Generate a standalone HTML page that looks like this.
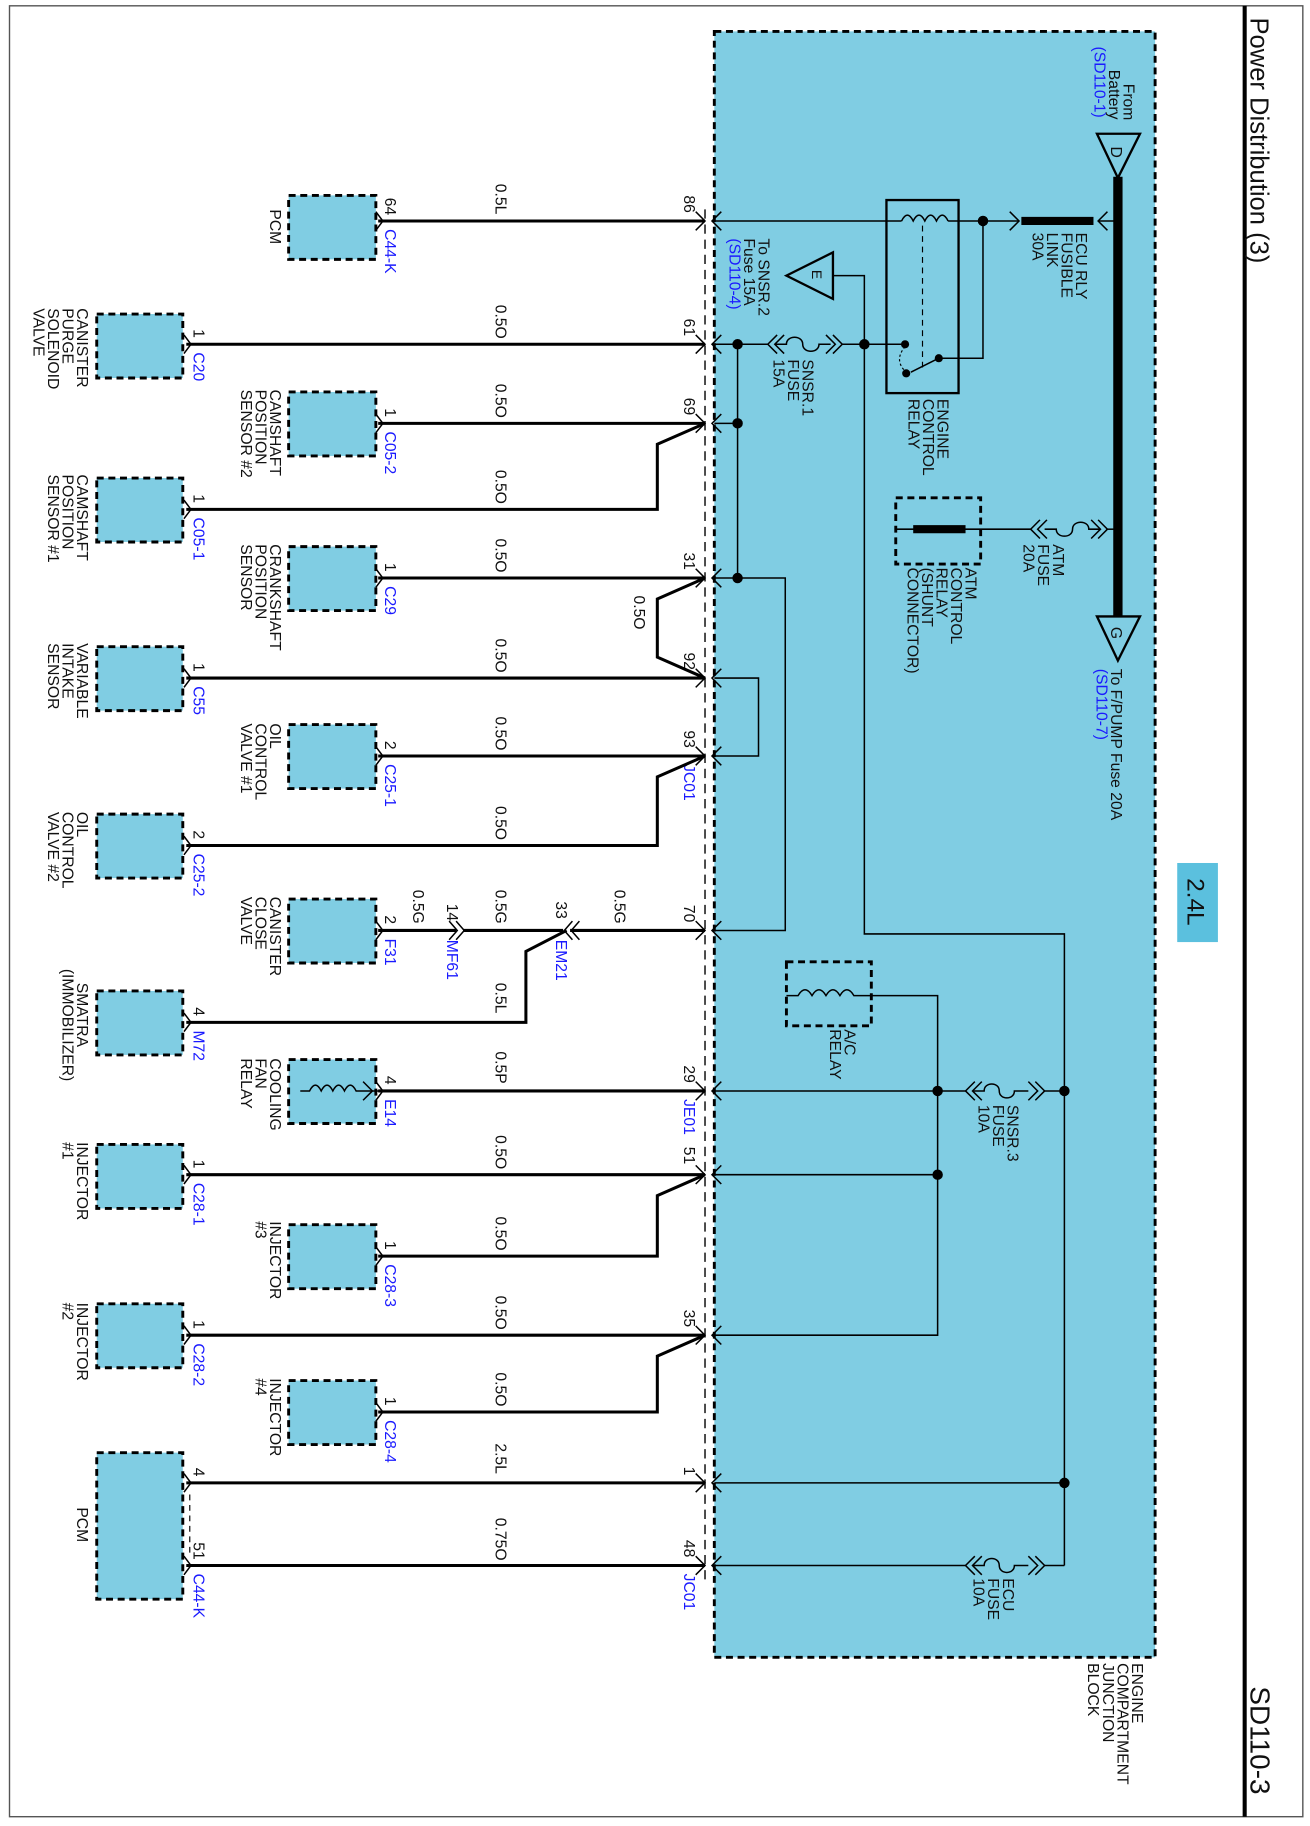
<!DOCTYPE html>
<html><head><meta charset="utf-8"><style>
html,body{margin:0;padding:0;background:#fff}
svg{display:block}
text{font-family:"Liberation Sans",sans-serif;font-size:13.5px;fill:#111}
.b{fill:#1a1aff}
.w{stroke:#000;stroke-width:2.6;fill:none}
.t{stroke:#000;stroke-width:1.3;fill:none}
.box{fill:#80cde3;stroke:#000;stroke-width:2.5;stroke-dasharray:6 4}
</style></head><body>
<svg width="1310" height="1826" viewBox="0 0 1126 1570" xmlns="http://www.w3.org/2000/svg">
<rect x="8" y="5" width="1112" height="1557" fill="none" stroke="#555" stroke-width="1.2"/>
<line x1="1070" y1="5" x2="1070" y2="1562" stroke="#000" stroke-width="3.5"/>
<text transform="translate(1075,15) rotate(90)" style="font-size:22px">Power Distribution (3)</text>
<text transform="translate(1075,1450) rotate(90)" style="font-size:24px">SD110-3</text>
<rect x="1012" y="742" width="35" height="68" fill="#5bc0de"/>
<text transform="translate(1021,755) rotate(90)" style="font-size:21px">2.4L</text>

<rect x="614" y="27" width="379" height="1398" class="box" stroke-width="3"/>
<line x1="606" y1="180" x2="606" y2="1362" stroke="#000" stroke-width="1.2" stroke-dasharray="8 5"/>
<g transform="translate(973,1430) rotate(90)"><text>ENGINE<tspan x="0" dy="12.5">COMPARTMENT</tspan><tspan x="0" dy="12.5">JUNCTION</tspan><tspan x="0" dy="12.5">BLOCK</tspan></text></g>

<line x1="961" y1="152" x2="961" y2="530" stroke="#000" stroke-width="8"/>
<polygon points="943,115 980,115 961,153" fill="none" stroke="#000" stroke-width="2"/>
<text transform="translate(955,126) rotate(90)">D</text>
<polygon points="943,530 980,530 961,568" fill="none" stroke="#000" stroke-width="2"/>
<text transform="translate(955,539) rotate(90)">G</text>
<g transform="translate(966,72) rotate(90)"><text>From<tspan x="-12" dy="12.5">Battery</tspan><tspan x="-32" dy="12.5" class="b">(SD110-1)</tspan></text></g>
<g transform="translate(955,575) rotate(90)"><text>To F/PUMP Fuse 20A<tspan x="0" dy="12.5" class="b">(SD110-7)</tspan></text></g>

<line x1="614" y1="190" x2="775" y2="190" class="t"/>
<path d="M775,190 q5,-10 10,0 q5,-10 10,0 q5,-10 10,0 q5,-10 10,0" class="t"/>
<line x1="815" y1="190" x2="875" y2="190" class="t"/>
<polyline points="868,182 876,190 868,198" class="t"/>
<line x1="878" y1="190" x2="940" y2="190" stroke="#000" stroke-width="7"/>
<polyline points="952,182 944,190 952,198" class="t"/><line x1="944" y1="190" x2="961" y2="190" class="t"/>
<circle cx="845" cy="190" r="4.5"/>
<g transform="translate(925,200) rotate(90)"><text>ECU RLY<tspan x="0" dy="12.5">FUSIBLE</tspan><tspan x="0" dy="12.5">LINK</tspan><tspan x="0" dy="12.5">30A</tspan></text></g>
<rect x="762" y="172" width="62" height="166" fill="none" stroke="#000" stroke-width="2"/>
<line x1="793" y1="194" x2="793" y2="318" stroke="#000" stroke-width="1" stroke-dasharray="5 4"/>
<polyline points="845,190 845,308 807,308" class="t"/>
<line x1="807" y1="308" x2="783" y2="320" class="t"/>
<circle cx="778" cy="296" r="3.5"/><circle cx="779" cy="321" r="3.5"/><circle cx="807" cy="308" r="3.5"/>
<path d="M778,298 q-10,12 1,22" stroke="#000" stroke-width="1" fill="none" stroke-dasharray="2 2"/>
<g transform="translate(806,343) rotate(90)"><text>ENGINE<tspan x="0" dy="12.5">CONTROL</tspan><tspan x="0" dy="12.5">RELAY</tspan></text></g>

<line x1="614" y1="296" x2="660" y2="296" class="t"/>
<polyline points="668,288 660,296 668,304" class="t"/><polyline points="674,288 666,296 674,304" class="t"/>
<path d="M666,296 h10 c0,-8 14,-8 14,0 c0,8 14,8 14,0 h10" class="t"/>
<polyline points="710,288 718,296 710,304" class="t"/><polyline points="716,288 724,296 716,304" class="t"/>
<line x1="724" y1="296" x2="778" y2="296" class="t"/>
<circle cx="634" cy="296" r="4.5"/><circle cx="743" cy="296" r="4.5"/>
<g transform="translate(690,309) rotate(90)"><text>SNSR.1<tspan x="0" dy="12.5">FUSE</tspan><tspan x="0" dy="12.5">15A</tspan></text></g>
<polygon points="676,237 716,217 716,257" fill="none" stroke="#000" stroke-width="2"/>
<text transform="translate(698,232) rotate(90)" style="font-size:12px">E</text>
<polyline points="716,237 743,237 743,803 915,803 915,1346" class="t"/>
<g transform="translate(652,205) rotate(90)"><text>To SNSR.2<tspan x="0" dy="12.5">Fuse 15A</tspan><tspan x="0" dy="12.5" class="b">(SD110-4)</tspan></text></g>

<line x1="961" y1="455" x2="951" y2="455" class="t"/>
<polyline points="944,447 952,455 944,463" class="t"/><polyline points="938,447 946,455 938,463" class="t"/>
<path d="M946,455 h-10 c0,-8 -14,-8 -14,0 c0,8 -14,8 -14,0 h-10" class="t"/>
<polyline points="894,447 886,455 894,463" class="t"/><polyline points="900,447 892,455 900,463" class="t"/>
<line x1="886" y1="455" x2="770" y2="455" class="t"/>
<rect x="770" y="428" width="73" height="57" fill="none" stroke="#000" stroke-width="2.5" stroke-dasharray="6 4"/>
<line x1="785" y1="455" x2="830" y2="455" stroke="#000" stroke-width="7"/>
<g transform="translate(905,468) rotate(90)"><text>ATM<tspan x="0" dy="12.5">FUSE</tspan><tspan x="0" dy="12.5">20A</tspan></text></g>
<g transform="translate(830,488) rotate(90)"><text>ATM<tspan x="0" dy="12.5">CONTROL</tspan><tspan x="0" dy="12.5">RELAY</tspan><tspan x="0" dy="12.5">(SHUNT</tspan><tspan x="0" dy="12.5">CONNECTOR)</tspan></text></g>

<line x1="634" y1="296" x2="634" y2="497" class="t"/>
<line x1="614" y1="364" x2="634" y2="364" class="t"/><circle cx="634" cy="364" r="4.5"/>
<polyline points="614,497 675,497 675,800 614,800" class="t"/><circle cx="634" cy="497" r="4.5"/>
<polyline points="614,583 652,583 652,650 614,650" class="t"/>

<rect x="676" y="827" width="73" height="55" fill="none" stroke="#000" stroke-width="2.5" stroke-dasharray="6 4"/>
<path d="M676,856 h10 q6,-10 12,0 q6,-10 12,0 q6,-10 12,0 q6,-10 12,0 h14 H806 V1148 H614" class="t"/>
<g transform="translate(726,885) rotate(90)"><text>A/C<tspan x="0" dy="12.5">RELAY</tspan></text></g>
<line x1="614" y1="1010" x2="806" y2="1010" class="t"/><circle cx="806" cy="1010" r="4.5"/>
<line x1="614" y1="938" x2="830" y2="938" class="t"/>
<polyline points="838,930 830,938 838,946" class="t"/><polyline points="844,930 836,938 844,946" class="t"/>
<path d="M836,938 h10 c0,-8 13,-8 13,0 c0,8 13,8 13,0 h12" class="t"/>
<polyline points="884,930 892,938 884,946" class="t"/><polyline points="890,930 898,938 890,946" class="t"/>
<line x1="898" y1="938" x2="915" y2="938" class="t"/>
<circle cx="806" cy="938" r="4.5"/><circle cx="915" cy="938" r="4.5"/>
<g transform="translate(866,950) rotate(90)"><text>SNSR.3<tspan x="0" dy="12.5">FUSE</tspan><tspan x="0" dy="12.5">10A</tspan></text></g>
<line x1="614" y1="1275" x2="915" y2="1275" class="t"/><circle cx="915" cy="1275" r="4.5"/>
<line x1="614" y1="1346" x2="830" y2="1346" class="t"/>
<polyline points="838,1338 830,1346 838,1354" class="t"/><polyline points="844,1338 836,1346 844,1354" class="t"/>
<path d="M836,1346 h10 c0,-8 13,-8 13,0 c0,8 13,8 13,0 h12" class="t"/>
<polyline points="884,1338 892,1346 884,1354" class="t"/><polyline points="890,1338 898,1346 890,1354" class="t"/>
<line x1="898" y1="1346" x2="915" y2="1346" class="t"/>
<g transform="translate(862,1357) rotate(90)"><text>ECU<tspan x="0" dy="12.5">FUSE</tspan><tspan x="0" dy="12.5">10A</tspan></text></g>

<g class="t" stroke-width="1.4">
<polyline points="620,182 612,190 620,198"/><polyline points="598,182 606,190 598,198"/>
<polyline points="620,288 612,296 620,304"/><polyline points="598,288 606,296 598,304"/>
<polyline points="620,356 612,364 620,372"/><polyline points="598,356 606,364 598,372"/>
<polyline points="620,489 612,497 620,505"/><polyline points="598,489 606,497 598,505"/>
<polyline points="620,575 612,583 620,591"/><polyline points="598,575 606,583 598,591"/>
<polyline points="620,642 612,650 620,658"/><polyline points="598,642 606,650 598,658"/>
<polyline points="620,792 612,800 620,808"/><polyline points="598,792 606,800 598,808"/>
<polyline points="620,930 612,938 620,946"/><polyline points="598,930 606,938 598,946"/>
<polyline points="620,1002 612,1010 620,1018"/><polyline points="598,1002 606,1010 598,1018"/>
<polyline points="620,1140 612,1148 620,1156"/><polyline points="598,1140 606,1148 598,1156"/>
<polyline points="620,1267 612,1275 620,1283"/><polyline points="598,1267 606,1275 598,1283"/>
<polyline points="620,1338 612,1346 620,1354"/><polyline points="598,1338 606,1346 598,1354"/>
</g>
<g>
<text transform="translate(588,168) rotate(90)">86</text>
<text transform="translate(588,274) rotate(90)">61</text>
<text transform="translate(588,342) rotate(90)">69</text>
<text transform="translate(588,475) rotate(90)">31</text>
<text transform="translate(588,561) rotate(90)">92</text>
<text transform="translate(588,628) rotate(90)">93</text>
<text transform="translate(588,778) rotate(90)">70</text>
<text transform="translate(588,916) rotate(90)">29</text>
<text transform="translate(588,986) rotate(90)">51</text>
<text transform="translate(588,1126) rotate(90)">35</text>
<text transform="translate(588,1261) rotate(90)">1</text>
<text transform="translate(588,1324) rotate(90)">48</text>
<text class="b" transform="translate(588,657) rotate(90)">JC01</text>
<text class="b" transform="translate(588,945) rotate(90)">JE01</text>
<text class="b" transform="translate(588,1353) rotate(90)">JC01</text>
</g>

<g class="w">
<line x1="325" y1="190" x2="606" y2="190"/>
<line x1="160" y1="296" x2="606" y2="296"/>
<line x1="325" y1="364" x2="606" y2="364"/>
<polyline points="160,438 565,438 565,382 606,364"/>
<line x1="325" y1="497" x2="606" y2="497"/>
<polyline points="606,497 565,515 565,565 606,583"/>
<line x1="160" y1="583" x2="606" y2="583"/>
<line x1="325" y1="650" x2="606" y2="650"/>
<polyline points="160,727 565,727 565,668 606,650"/>
<line x1="490" y1="800" x2="606" y2="800"/>
<line x1="398" y1="800" x2="484" y2="800"/>
<line x1="325" y1="800" x2="392" y2="800"/>
<polyline points="160,879 452,879 452,818 487,800"/>
<line x1="325" y1="938" x2="606" y2="938"/>
<line x1="160" y1="1010" x2="606" y2="1010"/>
<polyline points="325,1080 565,1080 565,1028 606,1010"/>
<line x1="160" y1="1148" x2="606" y2="1148"/>
<polyline points="325,1214 565,1214 565,1166 606,1148"/>
<line x1="160" y1="1275" x2="606" y2="1275"/>
<line x1="160" y1="1346" x2="606" y2="1346"/>
</g>
<g class="t" stroke-width="1.5">
<polyline points="386,792 393,800 386,808"/><polyline points="392,792 399,800 392,808"/>
<polyline points="492,792 485,800 492,808"/><polyline points="498,792 491,800 498,808"/>
</g>
<text transform="translate(384,777) rotate(90)">14</text><text class="b" transform="translate(384,808) rotate(90)">MF61</text>
<text transform="translate(478,775) rotate(90)">33</text><text class="b" transform="translate(478,808) rotate(90)">EM21</text>
<line x1="163" y1="1285" x2="163" y2="1336" stroke="#000" stroke-width="1" stroke-dasharray="5 4"/>

<g>
<text transform="translate(426,158) rotate(90)">0.5L</text>
<text transform="translate(426,262) rotate(90)">0.5O</text>
<text transform="translate(426,330) rotate(90)">0.5O</text>
<text transform="translate(426,404) rotate(90)">0.5O</text>
<text transform="translate(426,463) rotate(90)">0.5O</text>
<text transform="translate(545,512) rotate(90)">0.5O</text>
<text transform="translate(426,549) rotate(90)">0.5O</text>
<text transform="translate(426,616) rotate(90)">0.5O</text>
<text transform="translate(426,693) rotate(90)">0.5O</text>
<text transform="translate(528,765) rotate(90)">0.5G</text>
<text transform="translate(426,765) rotate(90)">0.5G</text>
<text transform="translate(355,765) rotate(90)">0.5G</text>
<text transform="translate(426,845) rotate(90)">0.5L</text>
<text transform="translate(426,904) rotate(90)">0.5P</text>
<text transform="translate(426,976) rotate(90)">0.5O</text>
<text transform="translate(426,1046) rotate(90)">0.5O</text>
<text transform="translate(426,1114) rotate(90)">0.5O</text>
<text transform="translate(426,1180) rotate(90)">0.5O</text>
<text transform="translate(426,1241) rotate(90)">2.5L</text>
<text transform="translate(426,1305) rotate(90)">0.75O</text>
</g>

<g>
<rect x="248" y="168" width="75" height="55" class="box"/>
<rect x="248" y="337" width="75" height="55" class="box"/>
<rect x="248" y="470" width="75" height="55" class="box"/>
<rect x="248" y="623" width="75" height="55" class="box"/>
<rect x="248" y="773" width="75" height="55" class="box"/>
<rect x="248" y="911" width="75" height="55" class="box"/>
<rect x="248" y="1053" width="75" height="55" class="box"/>
<rect x="248" y="1187" width="75" height="55" class="box"/>
<rect x="83" y="270" width="74" height="55" class="box"/>
<rect x="83" y="411" width="74" height="55" class="box"/>
<rect x="83" y="556" width="74" height="55" class="box"/>
<rect x="83" y="700" width="74" height="55" class="box"/>
<rect x="83" y="852" width="74" height="55" class="box"/>
<rect x="83" y="984" width="74" height="55" class="box"/>
<rect x="83" y="1121" width="74" height="55" class="box"/>
<rect x="83" y="1249" width="74" height="126" class="box"/>
</g>
<path d="M258,938 h8 q5,-10 10,0 q5,-10 10,0 q5,-10 10,0 q5,-10 10,0 h20" class="t"/>
<polyline points="312,930 320,938 312,946" class="t"/>
<g class="t" stroke-width="1.5">
<polyline points="323,182 329,190 323,198"/><polyline points="158,288 164,296 158,304"/>
<polyline points="323,356 329,364 323,372"/><polyline points="158,430 164,438 158,446"/>
<polyline points="323,489 329,497 323,505"/><polyline points="158,575 164,583 158,591"/>
<polyline points="323,642 329,650 323,658"/><polyline points="158,719 164,727 158,735"/>
<polyline points="323,792 329,800 323,808"/><polyline points="158,871 164,879 158,887"/>
<polyline points="323,930 329,938 323,946"/><polyline points="158,1002 164,1010 158,1018"/>
<polyline points="323,1072 329,1080 323,1088"/><polyline points="158,1140 164,1148 158,1156"/>
<polyline points="323,1206 329,1214 323,1222"/><polyline points="158,1267 164,1275 158,1283"/>
<polyline points="158,1338 164,1346 158,1354"/>
</g>
<g>
<text transform="translate(331,170) rotate(90)">64</text><text class="b" transform="translate(331,197) rotate(90)">C44-K</text>
<text transform="translate(166,283) rotate(90)">1</text><text class="b" transform="translate(166,303) rotate(90)">C20</text>
<text transform="translate(331,351) rotate(90)">1</text><text class="b" transform="translate(331,371) rotate(90)">C05-2</text>
<text transform="translate(166,425) rotate(90)">1</text><text class="b" transform="translate(166,445) rotate(90)">C05-1</text>
<text transform="translate(331,484) rotate(90)">1</text><text class="b" transform="translate(331,504) rotate(90)">C29</text>
<text transform="translate(166,570) rotate(90)">1</text><text class="b" transform="translate(166,590) rotate(90)">C55</text>
<text transform="translate(331,637) rotate(90)">2</text><text class="b" transform="translate(331,657) rotate(90)">C25-1</text>
<text transform="translate(166,714) rotate(90)">2</text><text class="b" transform="translate(166,734) rotate(90)">C25-2</text>
<text transform="translate(331,787) rotate(90)">2</text><text class="b" transform="translate(331,807) rotate(90)">F31</text>
<text transform="translate(166,866) rotate(90)">4</text><text class="b" transform="translate(166,886) rotate(90)">M72</text>
<text transform="translate(331,925) rotate(90)">4</text><text class="b" transform="translate(331,945) rotate(90)">E14</text>
<text transform="translate(166,997) rotate(90)">1</text><text class="b" transform="translate(166,1017) rotate(90)">C28-1</text>
<text transform="translate(331,1067) rotate(90)">1</text><text class="b" transform="translate(331,1087) rotate(90)">C28-3</text>
<text transform="translate(166,1135) rotate(90)">1</text><text class="b" transform="translate(166,1155) rotate(90)">C28-2</text>
<text transform="translate(331,1201) rotate(90)">1</text><text class="b" transform="translate(331,1221) rotate(90)">C28-4</text>
<text transform="translate(166,1262) rotate(90)">4</text>
<text transform="translate(166,1326) rotate(90)">51</text><text class="b" transform="translate(166,1353) rotate(90)">C44-K</text>
</g>
<g>
<text transform="translate(232,180) rotate(90)">PCM</text>
<g transform="translate(232,335) rotate(90)"><text>CAMSHAFT<tspan x="0" dy="12.5">POSITION</tspan><tspan x="0" dy="12.5">SENSOR #2</tspan></text></g>
<g transform="translate(232,468) rotate(90)"><text>CRANKSHAFT<tspan x="0" dy="12.5">POSITION</tspan><tspan x="0" dy="12.5">SENSOR</tspan></text></g>
<g transform="translate(232,622) rotate(90)"><text>OIL<tspan x="0" dy="12.5">CONTROL</tspan><tspan x="0" dy="12.5">VALVE #1</tspan></text></g>
<g transform="translate(232,771) rotate(90)"><text>CANISTER<tspan x="0" dy="12.5">CLOSE</tspan><tspan x="0" dy="12.5">VALVE</tspan></text></g>
<g transform="translate(232,910) rotate(90)"><text>COOLING<tspan x="0" dy="12.5">FAN</tspan><tspan x="0" dy="12.5">RELAY</tspan></text></g>
<g transform="translate(232,1050) rotate(90)"><text>INJECTOR<tspan x="0" dy="12.5">#3</tspan></text></g>
<g transform="translate(232,1185) rotate(90)"><text>INJECTOR<tspan x="0" dy="12.5">#4</tspan></text></g>
<g transform="translate(66,265) rotate(90)"><text>CANISTER<tspan x="0" dy="12.5">PURGE</tspan><tspan x="0" dy="12.5">SOLENOID</tspan><tspan x="0" dy="12.5">VALVE</tspan></text></g>
<g transform="translate(66,408) rotate(90)"><text>CAMSHAFT<tspan x="0" dy="12.5">POSITION</tspan><tspan x="0" dy="12.5">SENSOR #1</tspan></text></g>
<g transform="translate(66,553) rotate(90)"><text>VARIABLE<tspan x="0" dy="12.5">INTAKE</tspan><tspan x="0" dy="12.5">SENSOR</tspan></text></g>
<g transform="translate(66,698) rotate(90)"><text>OIL<tspan x="0" dy="12.5">CONTROL</tspan><tspan x="0" dy="12.5">VALVE #2</tspan></text></g>
<g transform="translate(66,845) rotate(90)"><text>SMATRA<tspan x="-12" dy="12.5">(IMMOBILIZER)</tspan></text></g>
<g transform="translate(66,982) rotate(90)"><text>INJECTOR<tspan x="0" dy="12.5">#1</tspan></text></g>
<g transform="translate(66,1120) rotate(90)"><text>INJECTOR<tspan x="0" dy="12.5">#2</tspan></text></g>
<text transform="translate(66,1296) rotate(90)">PCM</text>
</g>
</svg>
</body></html>
